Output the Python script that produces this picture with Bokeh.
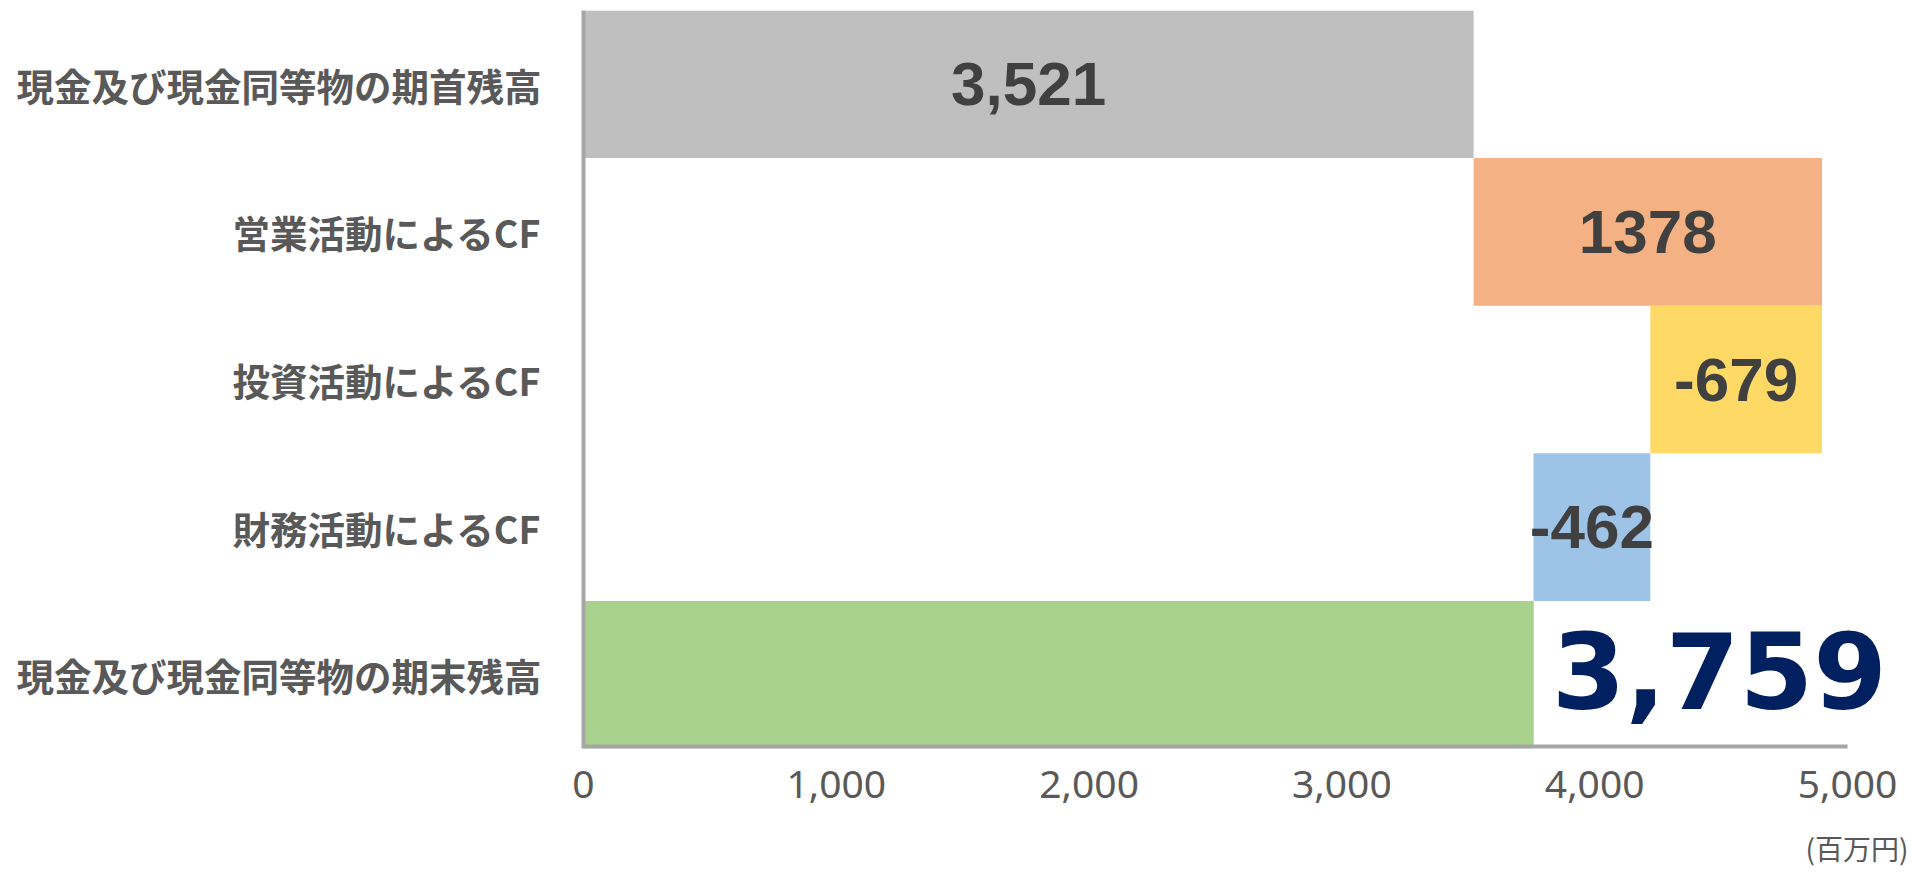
from bokeh.plotting import figure
from bokeh.models import ColumnDataSource, FactorRange, FixedTicker, NumeralTickFormatter, Title
from bokeh.core.properties import value
from bokeh.embed import file_html
from bokeh.resources import INLINE

# ---- data ----
categories = ["現金及び現金同等物の期首残高", "営業活動によるCF", "投資活動によるCF",
              "財務活動によるCF", "現金及び現金同等物の期末残高"]
amounts = [3521, 1378, -679, -462, 3759]
label_texts = ["3,521", "1378", "-679", "-462", "3,759"]
colors = ["#BFBFBF", "#F4B183", "#FFD966", "#9DC3E6", "#A9D18E"]
x_ticks = [0, 1000, 2000, 3000, 4000, 5000]
x_max = 5000
unit_text = "(百万円)"

# waterfall geometry derived from the data
lefts, rights = [], []
running = 0
for i, a in enumerate(amounts):
    if i == 0 or i == len(amounts) - 1:
        lefts.append(0)
        rights.append(a)
        running = a
    else:
        start = running
        end = running + a
        lefts.append(min(start, end))
        rights.append(max(start, end))
        running = end

# layout (pixels)
W, H = 1910, 872
AX_L, AX_R = 583, 1847          # where 0 and x_max sit on screen
FT, FB = 10, 756
frame_right = W
x_end = x_max * (frame_right - AX_L) / (AX_R - AX_L)

p = figure(width=W, height=H, output_backend="svg", toolbar_location=None,
           y_range=FactorRange(*categories[::-1]), x_range=(0, x_end),
           min_border_left=AX_L, min_border_right=0, min_border_top=FT,
           min_border_bottom=H - FB)
p.outline_line_color = None
p.grid.visible = False
p.background_fill_color = "white"

src = ColumnDataSource(dict(y=categories, left=lefts, right=rights, color=colors))
p.hbar(y="y", left="left", right="right", height=1.0, fill_color="color",
       line_color=None, source=src)

# x axis line only up to x_max (drawn at the bottom of the frame)
p.segment(x0=[0], x1=[x_max], y0=[0], y1=[0], line_color="#A6A6A6", line_width=8)

# inner labels (first four)
mid_src = ColumnDataSource(dict(
    x=[(l + r) / 2 for l, r in zip(lefts[:-1], rights[:-1])],
    y=categories[:-1], t=label_texts[:-1]))
p.text(x="x", y="y", text="t", source=mid_src, text_align="center",
       text_baseline="middle", text_font=value("Liberation Sans"),
       text_font_style="bold", text_font_size="62px", text_color="#404040")

# final big label
fin_src = ColumnDataSource(dict(x=[rights[-1]], y=[categories[-1]], t=[label_texts[-1]]))
p.text(x="x", y="y", text="t", source=fin_src, text_align="left",
       text_baseline="middle", x_offset=18, y_offset=-4,
       text_font=value("DejaVu Sans"), text_font_style="bold",
       text_font_size="106px", text_color="#002060")

# axes
p.xaxis.ticker = FixedTicker(ticks=x_ticks)
p.xaxis.formatter = NumeralTickFormatter(format="0,0")
p.xaxis.axis_line_color = None
p.xaxis.major_tick_line_color = None
p.xaxis.minor_tick_line_color = None
p.xaxis.major_tick_out = 0
p.xaxis.major_label_standoff = 22
p.xaxis.major_label_text_font = "Noto Sans"
p.xaxis.major_label_text_font_size = "39px"
p.xaxis.major_label_text_color = "#595959"
# blank axis label used only as spacing above the unit note
p.xaxis.axis_label = " "
p.xaxis.axis_label_text_font_size = "8px"
p.xaxis.axis_label_standoff = 8

p.yaxis.axis_line_color = "#A6A6A6"
p.yaxis.axis_line_width = 4
p.yaxis.major_tick_line_color = None
p.yaxis.minor_tick_line_color = None
p.yaxis.major_tick_out = 0
p.yaxis.major_label_standoff = 42
p.yaxis.major_label_text_font = "Noto Sans CJK JP"
p.yaxis.major_label_text_font_style = "bold"
p.yaxis.major_label_text_font_size = "37.5px"
p.yaxis.major_label_text_color = "#595959"

p.add_layout(Title(text=unit_text, align="right", offset=2, standoff=10,
                   vertical_align="bottom",
                   text_font="Noto Sans CJK JP", text_font_size="28px",
                   text_font_style="normal", text_color="#595959"), "below")

open("out.html", "w").write(file_html(p, INLINE))
